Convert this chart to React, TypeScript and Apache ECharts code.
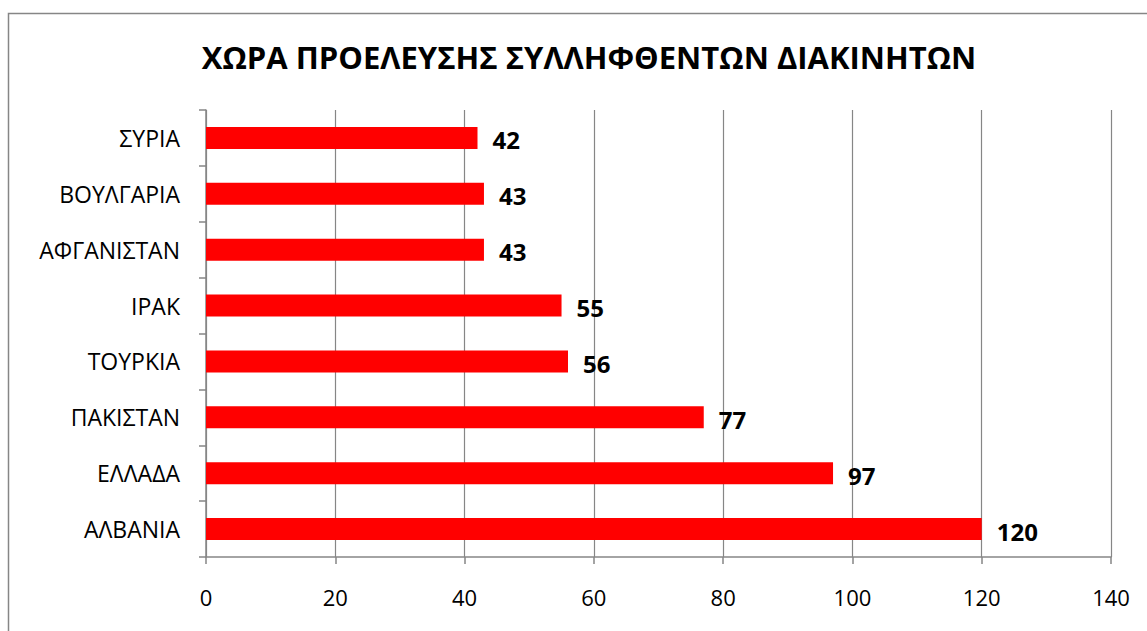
import React, { useEffect, useRef } from "react";
import * as echarts from "echarts";

const titleText = "ΧΩΡΑ ΠΡΟΕΛΕΥΣΗΣ ΣΥΛΛΗΦΘΕΝΤΩΝ ΔΙΑΚΙΝΗΤΩΝ";
const categories = ["ΑΛΒΑΝΙΑ", "ΕΛΛΑΔΑ", "ΠΑΚΙΣΤΑΝ", "ΤΟΥΡΚΙΑ", "ΙΡΑΚ", "ΑΦΓΑΝΙΣΤΑΝ", "ΒΟΥΛΓΑΡΙΑ", "ΣΥΡΙΑ"];
const values = [120, 97, 77, 56, 55, 43, 43, 42];
const xMin = 0;
const xMax = 140;
const xStep = 20;

const FONT = "'Open Sans', 'Noto Sans', sans-serif";
const GRAY = "#868686";

export default function App() {
  const ref = useRef<HTMLDivElement>(null);
  useEffect(() => {
    if (!ref.current) return;
    const chart = echarts.init(ref.current, null, { renderer: "svg" });
    chart.setOption({
      animation: false,
      backgroundColor: "#ffffff",
      title: {
        text: titleText,
        left: 584,
        textAlign: "center",
        top: 36,
        textStyle: { fontFamily: FONT, fontSize: 31, fontWeight: "bold", color: "#000" },
      },
      graphic: [
        {
          type: "rect",
          shape: { x: 8.5, y: 13.5, width: 2000, height: 2000 },
          style: { fill: "none", stroke: GRAY, lineWidth: 1.5 },
          silent: true,
        },
      ],
      grid: { left: 206, right: 36, top: 110, bottom: 74, containLabel: false },
      xAxis: {
        type: "value",
        min: xMin,
        max: xMax,
        interval: xStep,
        axisLine: { show: true, lineStyle: { color: GRAY, width: 1.5 } },
        axisTick: { show: true, length: 7, lineStyle: { color: GRAY, width: 1.5 } },
        splitLine: { show: true, lineStyle: { color: GRAY, width: 1.2 } },
        axisLabel: { fontFamily: FONT, fontSize: 22, color: "#000", margin: 29 },
      },
      yAxis: {
        type: "category",
        data: categories,
        axisLine: { show: true, lineStyle: { color: GRAY, width: 1.5 } },
        axisTick: { show: true, length: 7, lineStyle: { color: GRAY, width: 1.5 } },
        axisLabel: { fontFamily: FONT, fontSize: 23, color: "#000", margin: 26 },
      },
      series: [
        {
          type: "bar",
          data: values,
          barWidth: 22,
          itemStyle: { color: "#ff0000" },
          label: {
            show: true,
            position: "right",
            distance: 15,
            offset: [0, 2],
            fontFamily: FONT,
            fontSize: 24,
            fontWeight: "bold",
            color: "#000",
          },
        },
      ],
    });
    return () => chart.dispose();
  }, []);
  return (
    <div
      ref={ref}
      style={{ position: "fixed", left: 0, top: 0, width: 1147, height: 631 }}
    />
  );
}
